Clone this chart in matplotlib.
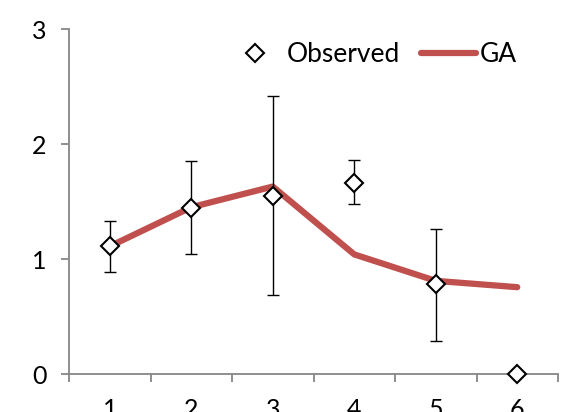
import numpy as np
import matplotlib.pyplot as plt

plt.rcParams['font.family'] = ['Lato', 'DejaVu Sans']

x = [1, 2, 3, 4, 5, 6]
observed = [1.11, 1.44, 1.55, 1.66, 0.78, 0.0]
err_hi = [1.33, 1.85, 2.42, 1.86, 1.26, 0.0]
err_lo = [0.89, 1.04, 0.69, 1.48, 0.29, 0.0]
ga = [1.11, 1.45, 1.63, 1.04, 0.81, 0.755]

obs = np.array(observed)
yerr = [obs - np.array(err_lo), np.array(err_hi) - obs]

fig = plt.figure(figsize=(5.64, 4.12), dpi=100)
ax = fig.add_axes([69 / 564, 1 - 374 / 412, (558 - 69) / 564, (374 - 29) / 412])

ax.plot(x, ga, color='#C0504D', lw=4.5, solid_capstyle='round', label='GA', zorder=2)
ax.errorbar(x, observed, yerr=yerr, fmt='none', ecolor='black', elinewidth=1.0,
            capsize=4.5, capthick=1.0, zorder=3)
ax.plot(x, observed, ls='none', marker='D', markersize=9, markerfacecolor='white',
        markeredgecolor='black', markeredgewidth=1.5, label='Observed', zorder=4,
        clip_on=False)

ax.set_xlim(0.5, 6.5)
ax.set_ylim(0, 3)
ax.set_yticks([0, 1, 2, 3])
ax.set_xticks(x)
ax.set_xticks(np.arange(0.5, 7, 1), minor=True)

for s in ['top', 'right']:
    ax.spines[s].set_visible(False)
for s in ['left', 'bottom']:
    ax.spines[s].set_color('#868686')
    ax.spines[s].set_linewidth(1.3)

ax.tick_params(axis='y', direction='out', length=6, width=1.3, color='#868686',
               labelsize=18, pad=10)
ax.tick_params(axis='x', which='major', length=0, labelsize=18, pad=17)
ax.tick_params(axis='x', which='minor', direction='out', length=6, width=1.3,
               color='#868686')

h, l = ax.get_legend_handles_labels()
ax.legend([h[1], h[0]], [l[1], l[0]], loc='upper right', ncol=2, frameon=False,
          fontsize=19, handlelength=2.1, handletextpad=0.15, columnspacing=0.8,
          bbox_to_anchor=(0.965, 1.03))

fig.savefig('out.png', dpi=100)
